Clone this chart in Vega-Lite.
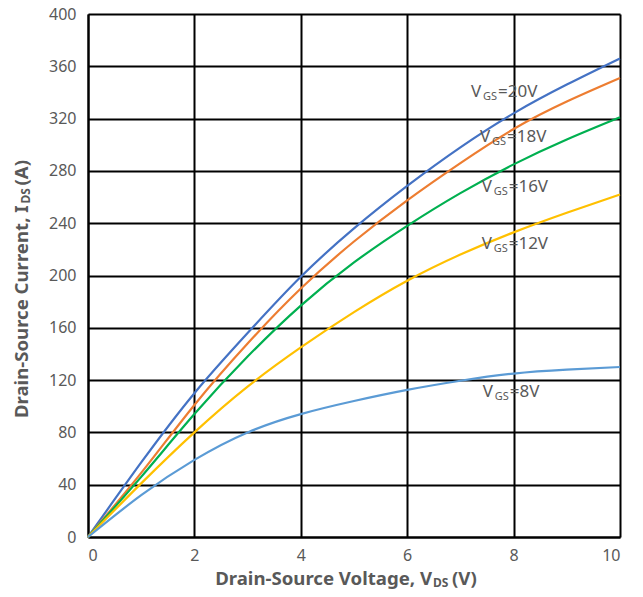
{
  "$schema": "https://vega.github.io/schema/vega-lite/v6.json",
  "width": 532,
  "height": 523,
  "autosize": {"type": "none"},
  "padding": {"left": 88, "top": 14, "right": 23, "bottom": 60},
  "background": "white",
  "config": {
    "view": {"stroke": null},
    "font": "Noto Sans",
    "axis": {
      "grid": true, "gridColor": "black", "gridWidth": 2, "gridOpacity": 1,
      "domainColor": "black", "domainWidth": 2, "ticks": false,
      "labelColor": "#595959", "labelFontSize": 16, "labelFont": "Noto Sans"
    }
  },
  "datasets": {
    "curves": [
      {"vgs": "20V", "v": 0, "i": 0}, {"vgs": "20V", "v": 1, "i": 57}, {"vgs": "20V", "v": 2, "i": 110}, {"vgs": "20V", "v": 3, "i": 156}, {"vgs": "20V", "v": 4, "i": 199}, {"vgs": "20V", "v": 5, "i": 236}, {"vgs": "20V", "v": 6, "i": 268.5}, {"vgs": "20V", "v": 7, "i": 298}, {"vgs": "20V", "v": 8, "i": 324}, {"vgs": "20V", "v": 9, "i": 346}, {"vgs": "20V", "v": 10, "i": 366},
      {"vgs": "18V", "v": 0, "i": 0}, {"vgs": "18V", "v": 1, "i": 49}, {"vgs": "18V", "v": 2, "i": 101}, {"vgs": "18V", "v": 3, "i": 148}, {"vgs": "18V", "v": 4, "i": 190}, {"vgs": "18V", "v": 5, "i": 226}, {"vgs": "18V", "v": 6, "i": 257.5}, {"vgs": "18V", "v": 7, "i": 286}, {"vgs": "18V", "v": 8, "i": 312}, {"vgs": "18V", "v": 9, "i": 333}, {"vgs": "18V", "v": 10, "i": 351},
      {"vgs": "16V", "v": 0, "i": 0}, {"vgs": "16V", "v": 1, "i": 46}, {"vgs": "16V", "v": 2, "i": 94}, {"vgs": "16V", "v": 3, "i": 138}, {"vgs": "16V", "v": 4, "i": 177}, {"vgs": "16V", "v": 5, "i": 210}, {"vgs": "16V", "v": 6, "i": 238}, {"vgs": "16V", "v": 7, "i": 263}, {"vgs": "16V", "v": 8, "i": 285}, {"vgs": "16V", "v": 9, "i": 304}, {"vgs": "16V", "v": 10, "i": 321},
      {"vgs": "12V", "v": 0, "i": 0}, {"vgs": "12V", "v": 1, "i": 41}, {"vgs": "12V", "v": 2, "i": 80}, {"vgs": "12V", "v": 3, "i": 115}, {"vgs": "12V", "v": 4, "i": 145}, {"vgs": "12V", "v": 5, "i": 172}, {"vgs": "12V", "v": 6, "i": 196}, {"vgs": "12V", "v": 7, "i": 216}, {"vgs": "12V", "v": 8, "i": 233}, {"vgs": "12V", "v": 9, "i": 248}, {"vgs": "12V", "v": 10, "i": 262},
      {"vgs": "8V", "v": 0, "i": 0}, {"vgs": "8V", "v": 1, "i": 32}, {"vgs": "8V", "v": 2, "i": 59}, {"vgs": "8V", "v": 3, "i": 80}, {"vgs": "8V", "v": 4, "i": 94}, {"vgs": "8V", "v": 5, "i": 104}, {"vgs": "8V", "v": 6, "i": 112.5}, {"vgs": "8V", "v": 7, "i": 119.5}, {"vgs": "8V", "v": 8, "i": 125}, {"vgs": "8V", "v": 9, "i": 128}, {"vgs": "8V", "v": 10, "i": 130}
    ],
    "labels": [
      {"x": 7.2, "y": 340, "rest": "=20V"},
      {"x": 7.37, "y": 306, "rest": "=18V"},
      {"x": 7.4, "y": 268, "rest": "=16V"},
      {"x": 7.4, "y": 224, "rest": "=12V"},
      {"x": 7.42, "y": 111, "rest": "=8V"}
    ],
    "xtitle": [{"x": 5, "y": 0}],
    "ytitle": [{"x": 0, "y": 200}]
  },
  "layer": [
    {
      "data": {"name": "curves"},
      "mark": {"type": "line", "interpolate": "natural", "strokeWidth": 2.2},
      "encoding": {
        "x": {"field": "v", "type": "quantitative", "scale": {"domain": [0, 10], "nice": false},
              "axis": {"values": [0, 2, 4, 6, 8, 10], "labelPadding": 10, "title": null}},
        "y": {"field": "i", "type": "quantitative", "scale": {"domain": [0, 400], "nice": false},
              "axis": {"values": [0, 40, 80, 120, 160, 200, 240, 280, 320, 360, 400], "labelPadding": 12, "title": null}},
        "color": {"field": "vgs", "type": "nominal",
                  "scale": {"domain": ["20V", "18V", "16V", "12V", "8V"], "range": ["#4472C4", "#ED7D31", "#00B050", "#FFC000", "#5B9BD5"]},
                  "legend": null},
        "detail": {"field": "vgs"}
      }
    },
    {
      "data": {"name": "labels"},
      "mark": {"type": "text", "text": "V", "align": "left", "baseline": "middle", "fontSize": 17, "color": "#595959"},
      "encoding": {"x": {"field": "x", "type": "quantitative"}, "y": {"field": "y", "type": "quantitative"}}
    },
    {
      "data": {"name": "labels"},
      "mark": {"type": "text", "text": "GS", "align": "left", "baseline": "middle", "fontSize": 11, "dx": 12, "dy": 5, "color": "#595959"},
      "encoding": {"x": {"field": "x", "type": "quantitative"}, "y": {"field": "y", "type": "quantitative"}}
    },
    {
      "data": {"name": "labels"},
      "mark": {"type": "text", "align": "left", "baseline": "middle", "fontSize": 17, "dx": 27, "color": "#595959"},
      "encoding": {"x": {"field": "x", "type": "quantitative"}, "y": {"field": "y", "type": "quantitative"}, "text": {"field": "rest"}}
    },
    {
      "data": {"name": "xtitle"},
      "mark": {"type": "text", "text": "Drain-Source Voltage, V", "align": "right", "baseline": "middle", "fontSize": 18.6, "fontWeight": "bold", "dx": 78, "dy": 42, "color": "#595959"},
      "encoding": {"x": {"field": "x", "type": "quantitative"}, "y": {"field": "y", "type": "quantitative"}}
    },
    {
      "data": {"name": "xtitle"},
      "mark": {"type": "text", "text": "DS", "align": "left", "baseline": "middle", "fontSize": 12, "fontWeight": "bold", "dx": 79, "dy": 46, "color": "#595959"},
      "encoding": {"x": {"field": "x", "type": "quantitative"}, "y": {"field": "y", "type": "quantitative"}}
    },
    {
      "data": {"name": "xtitle"},
      "mark": {"type": "text", "text": "(V)", "align": "left", "baseline": "middle", "fontSize": 18.6, "fontWeight": "bold", "dx": 98, "dy": 42, "color": "#595959"},
      "encoding": {"x": {"field": "x", "type": "quantitative"}, "y": {"field": "y", "type": "quantitative"}}
    },
    {
      "data": {"name": "ytitle"},
      "mark": {"type": "text", "text": "Drain-Source Current, I", "angle": 270, "align": "right", "baseline": "middle", "fontSize": 18.6, "fontWeight": "bold", "dx": 70, "dy": -66, "color": "#595959"},
      "encoding": {"x": {"field": "x", "type": "quantitative"}, "y": {"field": "y", "type": "quantitative"}}
    },
    {
      "data": {"name": "ytitle"},
      "mark": {"type": "text", "text": "DS", "angle": 270, "align": "left", "baseline": "middle", "fontSize": 12, "fontWeight": "bold", "dx": 72, "dy": -62, "color": "#595959"},
      "encoding": {"x": {"field": "x", "type": "quantitative"}, "y": {"field": "y", "type": "quantitative"}}
    },
    {
      "data": {"name": "ytitle"},
      "mark": {"type": "text", "text": "(A)", "angle": 270, "align": "left", "baseline": "middle", "fontSize": 18.6, "fontWeight": "bold", "dx": 90, "dy": -66, "color": "#595959"},
      "encoding": {"x": {"field": "x", "type": "quantitative"}, "y": {"field": "y", "type": "quantitative"}}
    }
  ]
}
